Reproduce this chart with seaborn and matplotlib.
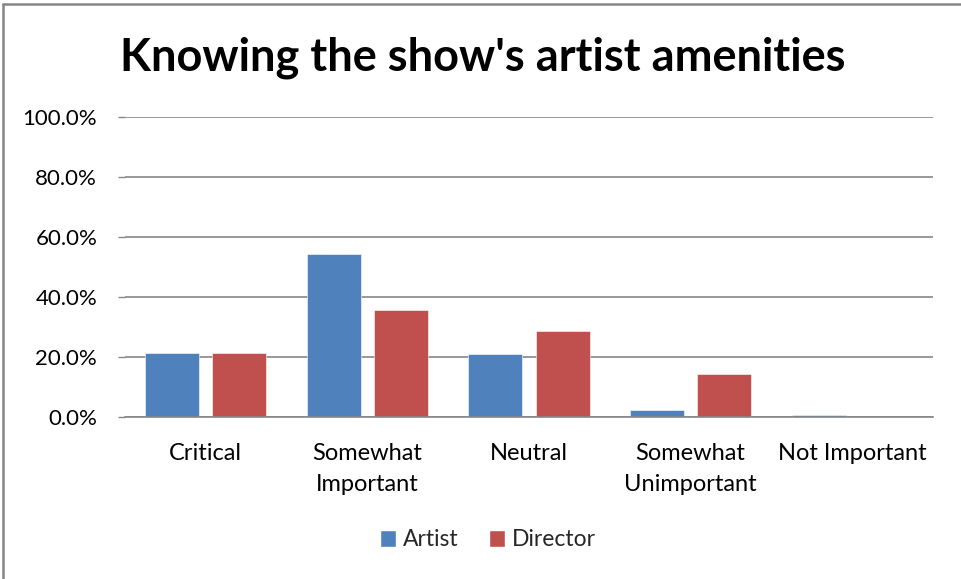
import matplotlib
matplotlib.use("Agg")
import matplotlib.pyplot as plt
from matplotlib.lines import Line2D
from matplotlib.ticker import FuncFormatter
import seaborn as sns
import pandas as pd

categories = ["Critical", "Somewhat\nImportant", "Neutral", "Somewhat\nUnimportant", "Not Important"]
artist = [21.3, 54.2, 21.1, 2.4, 0.8]
director = [21.4, 35.7, 28.6, 14.3, 0.0]
series = ["Artist", "Director"]
colors = ["#4F81BD", "#C0504D"]

df = pd.DataFrame({
    "category": categories * 2,
    "value": artist + director,
    "series": [series[0]] * len(categories) + [series[1]] * len(categories),
})

sns.set_theme(style="white")
plt.rcParams["font.family"] = ["Lato", "DejaVu Sans"]

fig = plt.figure(figsize=(9.61, 5.79), dpi=100)
ax = fig.add_axes([125 / 961, 1 - 417 / 579, 808 / 961, 300 / 579])

sns.barplot(data=df, x="category", y="value", hue="series", order=categories,
            hue_order=series, palette=colors, width=0.83, saturation=1,
            ax=ax, legend=True)

# narrow each bar around its centre to leave a small gap within a group
bar_w = 0.334
for p in ax.patches:
    if p.get_width() > 0 and p.get_width() < 1:
        c = p.get_x() + p.get_width() / 2
        p.set_width(bar_w)
        p.set_x(c - bar_w / 2)
        p.set_edgecolor("white")
        p.set_linewidth(0.4)

ax.set_ylim(0, 100)
ax.set_xlim(-0.5, len(categories) - 0.5)
ax.set_yticks([0, 20, 40, 60, 80, 100])
ax.yaxis.set_major_formatter(FuncFormatter(lambda v, _: f"{v:.1f}%"))
ax.yaxis.grid(True, color="#868686", linewidth=1.2)
ax.set_axisbelow(True)
for s in ["top", "right", "left"]:
    ax.spines[s].set_visible(False)
ax.spines["bottom"].set_color("#868686")
ax.spines["bottom"].set_linewidth(1.2)
ax.tick_params(axis="y", which="major", left=True, length=5, width=1, color="#868686",
               labelsize=16, pad=15, labelcolor="black")
ax.tick_params(axis="x", bottom=False, labelsize=17, pad=13, labelcolor="black")
ax.set_xlabel("")
ax.set_ylabel("")
for lbl in ax.get_xticklabels():
    lbl.set_linespacing(1.55)

leg = ax.legend(loc="center", bbox_to_anchor=(488 / 961, 1 - 540 / 579),
                bbox_transform=fig.transFigure, ncol=2, frameon=False,
                fontsize=16.5, handlelength=0.7, handleheight=0.7,
                handletextpad=0.3, columnspacing=1.3)

fig.text(483 / 961, 1 - 58 / 579, "Knowing the show's artist amenities",
         ha="center", va="center", fontsize=32.5, fontweight="bold", color="black")

# chart frame along the top and left edges
fig.add_artist(Line2D([3 / 961, 3 / 961], [0, 1 - 4 / 579], transform=fig.transFigure,
                      color="#868686", linewidth=1.8))
fig.add_artist(Line2D([3 / 961, 1], [1 - 4 / 579, 1 - 4 / 579], transform=fig.transFigure,
                      color="#868686", linewidth=1.8))

fig.savefig("out.png", dpi=100, facecolor="white")
